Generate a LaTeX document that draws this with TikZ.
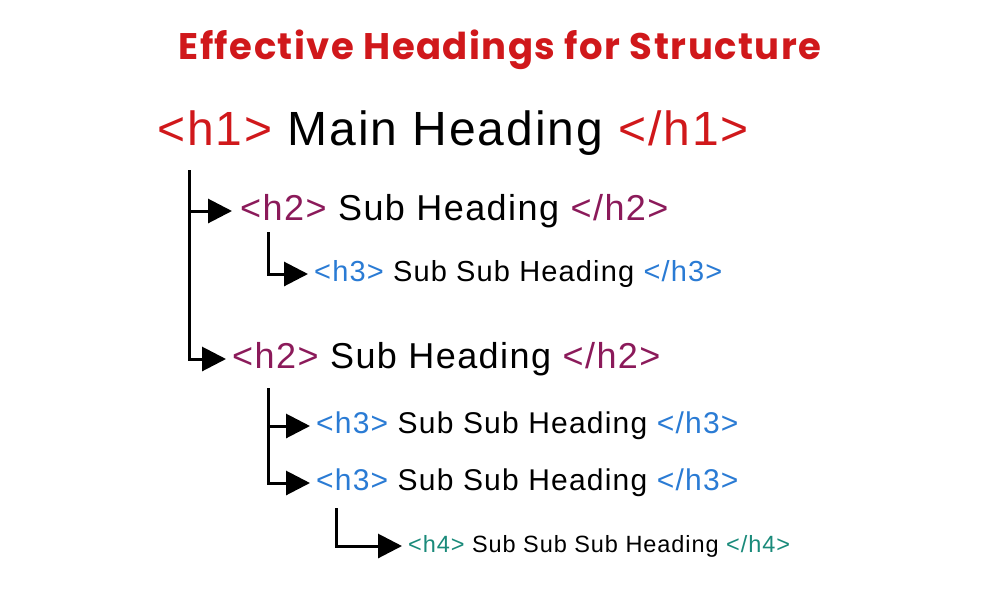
\documentclass[tikz,border=0pt]{standalone}
\usepackage{fontspec}
\setmainfont{Liberation Sans}[LetterSpace=4]
\newfontfamily\titlefont{Poppins}[UprightFont=* Bold,LetterSpace=4]
\usetikzlibrary{arrows.meta}
\definecolor{cred}{HTML}{D0181B}
\definecolor{cpur}{HTML}{8B1A5A}
\definecolor{cblue}{HTML}{2A7BD4}
\definecolor{cteal}{HTML}{1A8A7A}
\begin{document}
\begin{tikzpicture}[x=1pt,y=-1pt,
  conn/.style={line width=3pt,-{Triangle[length=24pt,width=24pt]}},
  lbl/.style={anchor=west,inner sep=0pt}]
\useasboundingbox (0,0) rectangle (1000,600);
\node[font=\titlefont\fontsize{37}{40}\selectfont,text=cred] (title) at (500,50) {Effective Headings for Structure};
\node[lbl,font=\fontsize{48}{52}\selectfont] (h1) at (157,133) {\textcolor{cred}{<h1>} Main Heading \textcolor{cred}{</h1>}};
\node[lbl,font=\fontsize{36}{40}\selectfont] (h2a) at (240,211) {\textcolor{cpur}{<h2>} Sub Heading \textcolor{cpur}{</h2>}};
\node[lbl,font=\fontsize{29}{32}\selectfont] (h3a) at (314,274) {\textcolor{cblue}{<h3>} Sub Sub Heading \textcolor{cblue}{</h3>}};
\node[lbl,font=\fontsize{36}{40}\selectfont] (h2b) at (232,359) {\textcolor{cpur}{<h2>} Sub Heading \textcolor{cpur}{</h2>}};
\node[lbl,font=\fontsize{30}{34}\selectfont] (h3b) at (316,426) {\textcolor{cblue}{<h3>} Sub Sub Heading \textcolor{cblue}{</h3>}};
\node[lbl,font=\fontsize{30}{34}\selectfont] (h3c) at (316,483) {\textcolor{cblue}{<h3>} Sub Sub Heading \textcolor{cblue}{</h3>}};
\node[lbl,font=\fontsize{23.5}{27}\selectfont] (h4) at (408,546) {\textcolor{cteal}{<h4>} Sub Sub Sub Heading \textcolor{cteal}{</h4>}};
\coordinate (v1) at (189,170);
\coordinate (v2) at (268,232);
\coordinate (v3) at (268,388);
\coordinate (v4) at (336,508);
\draw[conn] (v1) |- ([xshift=-8pt]h2a.west);
\draw[conn] (v1) |- ([xshift=-6pt]h2b.west);
\draw[conn] (v2) |- ([xshift=-6pt]h3a.west);
\draw[conn] (v3) |- ([xshift=-6pt]h3b.west);
\draw[conn] (v3) |- ([xshift=-6pt]h3c.west);
\draw[conn] (v4) |- ([xshift=-6pt]h4.west);
\end{tikzpicture}
\end{document}
